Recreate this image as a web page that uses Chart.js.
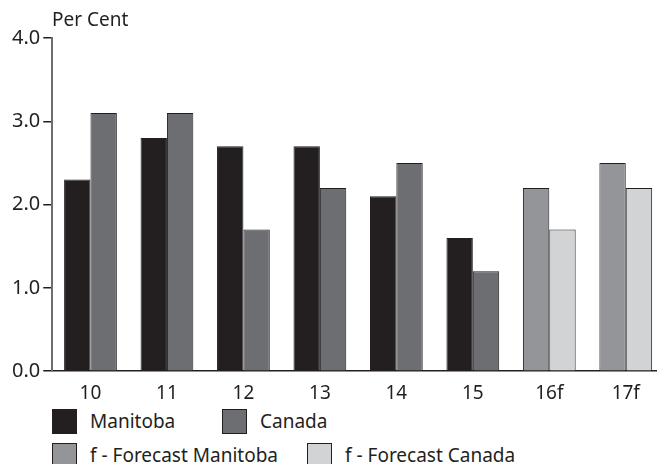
<!DOCTYPE html>
<html>
<head>
<meta charset="utf-8">
<script src="https://cdn.jsdelivr.net/npm/chart.js@4"></script>
<style>
  html, body { margin: 0; padding: 0; background: #fff; overflow: hidden; }
  body { width: 657px; height: 464px; position: relative; font-family: "Noto Sans", sans-serif; color: #231f20; }
  #wrap { position: absolute; left: 0; top: 0; width: 664px; height: 408px; }
  #unit { position: absolute; left: 52px; top: 8px; font-size: 19px; line-height: 22px; }
  .leg { position: absolute; display: flex; align-items: center; font-size: 19px; white-space: nowrap; }
  .leg span.box { display: inline-block; width: 23px; height: 23px; border: 1px solid #231f20; margin-right: 13px; }
</style>
</head>
<body>
<div id="wrap"><canvas id="growthChart"></canvas></div>
<div id="unit">Per Cent</div>
<div id="legend"></div>
<script>
// Real GDP growth, per cent
const years = ['10', '11', '12', '13', '14', '15', '16f', '17f'];
const manitoba = [2.3, 2.8, 2.7, 2.7, 2.1, 1.6, 2.2, 2.5];
const canada = [3.1, 3.1, 1.7, 2.2, 2.5, 1.2, 1.7, 2.2];
const yTicks = [0, 1, 2, 3, 4];

const colors = {
    manitoba: '#231f20',
    canada: '#6d6e71',
    fcManitoba: '#939598',
    fcCanada: '#d1d3d4'
};

// forecast years get the lighter shades
const isForecast = years.map(y => y.endsWith('f'));
const manitobaFill = isForecast.map(f => f ? colors.fcManitoba : colors.manitoba);
const canadaFill = isForecast.map(f => f ? colors.fcCanada : colors.canada);

const ctx = document.getElementById('growthChart').getContext('2d');
const growthChart = new Chart(ctx, {
    type: 'bar',
    data: {
        labels: years,
        datasets: [{
            label: 'Manitoba',
            data: manitoba,
            backgroundColor: manitobaFill,
            borderColor: '#231f20',
            borderWidth: 1
        }, {
            label: 'Canada',
            data: canada,
            backgroundColor: canadaFill,
            borderColor: '#231f20',
            borderWidth: 1
        }]
    },
    options: {
        responsive: true,
        maintainAspectRatio: false,
        animation: false,
        layout: { padding: { top: 38, left: 9, right: 0, bottom: 0 } },
        datasets: {
            bar: { categoryPercentage: 0.69, barPercentage: 1.0 }
        },
        plugins: {
            legend: { display: false },
            tooltip: { enabled: false }
        },
        scales: {
            x: {
                grid: { display: false },
                border: { display: true, color: '#231f20', width: 1.5 },
                ticks: { color: '#231f20', font: { family: 'Noto Sans', size: 19 }, padding: 3 }
            },
            y: {
                min: 0,
                max: 4,
                afterBuildTicks: axis => { axis.ticks = yTicks.map(v => ({ value: v })); },
                grid: { drawOnChartArea: false, drawTicks: true, tickLength: 9, color: '#231f20', lineWidth: 1.5 },
                border: { display: true, color: '#6d6e71', width: 2 },
                ticks: {
                    color: '#231f20',
                    font: { family: 'Noto Sans', size: 20 },
                    padding: 3,
                    callback: v => v.toFixed(1)
                }
            }
        }
    }
});

// legend in two rows below the axis
const legendItems = [
    { text: 'Manitoba', color: colors.manitoba, x: 52, y: 408 },
    { text: 'Canada', color: colors.canada, x: 222, y: 408 },
    { text: 'f - Forecast Manitoba', color: colors.fcManitoba, x: 52, y: 442 },
    { text: 'f - Forecast Canada', color: colors.fcCanada, x: 307, y: 442 }
];
const legend = document.getElementById('legend');
legendItems.forEach(item => {
    const el = document.createElement('div');
    el.className = 'leg';
    el.style.left = item.x + 'px';
    el.style.top = item.y + 'px';
    el.innerHTML = '<span class="box" style="background:' + item.color + '"></span>' + item.text;
    legend.appendChild(el);
});
</script>
</body>
</html>
